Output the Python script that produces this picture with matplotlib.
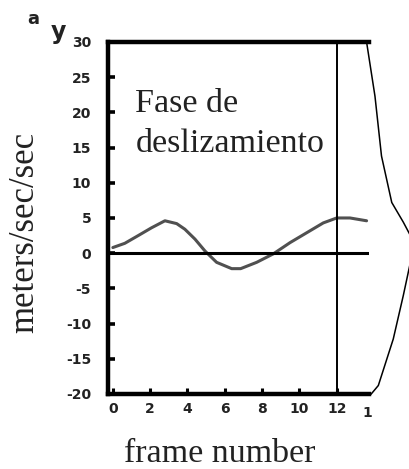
import numpy as np
import matplotlib.pyplot as plt

# Data
frame = np.array([0, 0.64, 1.36, 2.07, 2.79, 3.42, 3.86, 4.4, 4.94, 5.56, 6.37, 6.85,
                  7.71, 8.6, 9.5, 10.39, 11.28, 12.0, 12.71, 13.6])
accel = np.array([0.8, 1.4, 2.5, 3.6, 4.6, 4.2, 3.4, 2.0, 0.3, -1.3, -2.2, -2.2,
                  -1.3, -0.1, 1.5, 2.9, 4.3, 5.0, 5.0, 4.6])

# curve from the neighbouring panel, cut at the right edge
side_x = np.array([13.6, 14.05, 14.4, 14.95, 15.57, 15.95, 15.95, 15.57, 15.03, 14.23, 13.85])
side_y = np.array([30, 22.3, 13.8, 7.2, 4.4, 2.5, -1.3, -6.0, -12.2, -18.8, -20])

xticks = [0, 2, 4, 6, 8, 10, 12]
yticks = [30, 25, 20, 15, 10, 5, 0, -5, -10, -15, -20]
marker_frame = 12

fig = plt.figure(figsize=(4.10, 4.69), dpi=100)
ax = fig.add_axes([0.263, 0.16, 0.637, 0.7505])
ax.set_xlim(-0.27, 13.73)
ax.set_ylim(-20, 30)

ax.plot(frame, accel, color='#505050', lw=2.2, solid_capstyle='round', solid_joinstyle='round')
ax.axhline(0, xmax=0.995, color='black', lw=2.2)
ax.axvline(marker_frame, color='black', lw=1.4)
ax.plot(side_x, side_y, color='black', lw=1.1, clip_on=False)

for s in ['left', 'bottom', 'top']:
    ax.spines[s].set_linewidth(3.2)
ax.spines['right'].set_visible(False)

ax.set_xticks(xticks)
ax.set_xticklabels([str(t) for t in xticks])
ax.set_yticks(yticks)
ax.set_yticklabels([str(t) for t in yticks])
ax.tick_params(axis='y', direction='in', length=5, width=2.6, pad=12)
ax.tick_params(axis='x', direction='in', length=4, width=2.2, pad=6)
for lab in ax.get_xticklabels() + ax.get_yticklabels():
    lab.set_fontfamily('DejaVu Sans')
    lab.set_fontweight('bold')
    lab.set_fontsize(10)
    lab.set_color('#222222')
# clipped "14" label at the right end
ax.text(13.62, -21.7, '1', fontfamily='DejaVu Sans', fontweight='bold', fontsize=10,
        color='#222222', ha='center', va='top')

ax.text(1.2, 23.4, 'Fase de\ndeslizamiento', fontfamily='Liberation Serif',
        fontsize=24.5, linespacing=1.42, va='top', ha='left', color='#222222')

fig.text(0.06, 0.505, 'meters/sec/sec', rotation=90, fontfamily='Liberation Serif',
         fontsize=25, ha='center', va='center', color='#222222')
fig.text(0.537, 0.015, 'frame number', fontfamily='Liberation Serif',
         fontsize=24.5, ha='center', va='baseline', color='#222222')

fig.text(0.08, 0.96, 'a', fontfamily='DejaVu Sans', fontweight='bold', fontsize=13,
         ha='center', va='center', color='#222222')
fig.text(0.142, 0.932, 'y', fontfamily='DejaVu Sans', fontweight='bold', fontsize=17,
         ha='center', va='center', color='#222222')

fig.savefig('out.png', dpi=100)
